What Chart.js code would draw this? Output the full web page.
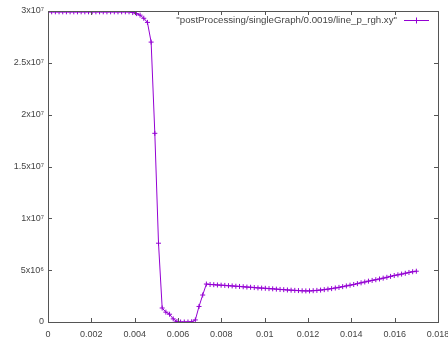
<!DOCTYPE html>
<html>
<head>
<meta charset="utf-8">
<script src="https://cdn.jsdelivr.net/npm/chart.js@4"></script>
<style>
  body { margin: 0; background: #fff; }
  canvas { display: block; }
</style>
</head>
<body>
<canvas id="myChart" width="448" height="339"></canvas>
<script>
// sample positions along the line (m)
var xs = [0, 0.00017, 0.00034, 0.00051, 0.00068, 0.00085, 0.00102, 0.00119, 0.00136, 0.00153,
  0.0017, 0.00187, 0.00204, 0.00221, 0.00238, 0.00255, 0.00272, 0.00289, 0.00306, 0.00323,
  0.0034, 0.00357, 0.00374, 0.00391, 0.00408, 0.00425, 0.00442, 0.00459, 0.00476, 0.00493,
  0.0051, 0.00527, 0.00544, 0.00561, 0.00578, 0.00595, 0.00612, 0.00629, 0.00646, 0.00663,
  0.0068, 0.00697, 0.00714, 0.00731, 0.00748, 0.00765, 0.00782, 0.00799, 0.00816, 0.00833,
  0.0085, 0.00867, 0.00884, 0.00901, 0.00918, 0.00935, 0.00952, 0.00969, 0.00986, 0.01003,
  0.0102, 0.01037, 0.01054, 0.01071, 0.01088, 0.01105, 0.01122, 0.01139, 0.01156, 0.01173,
  0.0119, 0.01207, 0.01224, 0.01241, 0.01258, 0.01275, 0.01292, 0.01309, 0.01326, 0.01343,
  0.0136, 0.01377, 0.01394, 0.01411, 0.01428, 0.01445, 0.01462, 0.01479, 0.01496, 0.01513,
  0.0153, 0.01547, 0.01564, 0.01581, 0.01598, 0.01615, 0.01632, 0.01649, 0.01666, 0.01683,
  0.017];

// p_rgh in units of 1e6
var pRgh = [29.92, 29.92, 29.92, 29.92, 29.92, 29.92, 29.92, 29.92, 29.92, 29.92,
  29.92, 29.92, 29.92, 29.92, 29.92, 29.92, 29.92, 29.92, 29.92, 29.92,
  29.92, 29.92, 29.92, 29.85, 29.75, 29.6, 29.3, 28.9, 27.0, 18.2,
  7.6, 1.35, 0.95, 0.75, 0.3, 0.05, 0, 0, 0, 0.02,
  0.2, 1.5, 2.6, 3.66, 3.62, 3.60, 3.57, 3.55, 3.53, 3.50,
  3.48, 3.45, 3.43, 3.40, 3.37, 3.35, 3.32, 3.29, 3.27, 3.25,
  3.22, 3.20, 3.17, 3.14, 3.12, 3.09, 3.07, 3.05, 3.03, 3.01,
  3.00, 3.00, 3.02, 3.05, 3.08, 3.12, 3.17, 3.22, 3.28, 3.34,
  3.41, 3.48, 3.55, 3.62, 3.70, 3.78, 3.86, 3.94, 4.01, 4.08,
  4.15, 4.23, 4.31, 4.40, 4.48, 4.55, 4.62, 4.70, 4.78, 4.85,
  4.90];

var xTickLabels = ['0', '0.002', '0.004', '0.006', '0.008', '0.01', '0.012', '0.014', '0.016', '0.018'];
var yTickLabels = ['0', '5x10\u2076', '1x10\u2077', '1.5x10\u2077', '2x10\u2077', '2.5x10\u2077', '3x10\u2077'];

var seriesLabel = '"postProcessing/singleGraph/0.0019/line_p_rgh.xy"';
var lineColor = '#9400d3';
var textColor = '#444';
var font = { family: 'Liberation Sans', size: 9 };

var points = xs.map(function (x, i) { return { x: x, y: pRgh[i] * 1e6 }; });

// gnuplot style: full border, ticks pointing inwards and mirrored
var frame = {
  id: 'frame',
  afterDraw: function (chart) {
    var c = chart.ctx, a = chart.chartArea;
    c.save();
    c.strokeStyle = '#555';
    c.lineWidth = 1;
    c.beginPath();
    chart.scales.x.ticks.forEach(function (t) {
      var px = Math.round(chart.scales.x.getPixelForValue(t.value)) + 0.5;
      c.moveTo(px, a.bottom); c.lineTo(px, a.bottom - 4);
      c.moveTo(px, a.top); c.lineTo(px, a.top + 4);
    });
    chart.scales.y.ticks.forEach(function (t) {
      var py = Math.round(chart.scales.y.getPixelForValue(t.value)) + 0.5;
      c.moveTo(a.left, py); c.lineTo(a.left + 4, py);
      c.moveTo(a.right, py); c.lineTo(a.right - 4, py);
    });
    c.stroke();
    c.strokeRect(Math.round(a.left) + 0.5, Math.round(a.top) + 0.5,
      Math.round(a.right - a.left), Math.round(a.bottom - a.top));

    // key in the top right corner
    var ly = a.top + 9;
    c.font = '9.7px ' + font.family;
    c.fillStyle = textColor;
    c.textAlign = 'right';
    c.textBaseline = 'middle';
    c.fillText(seriesLabel, a.right - 41, ly);
    c.strokeStyle = lineColor;
    c.beginPath();
    c.moveTo(a.right - 34, ly + 0.5); c.lineTo(a.right - 9, ly + 0.5);
    c.moveTo(a.right - 21.5, ly - 2.5); c.lineTo(a.right - 21.5, ly + 3.5);
    c.stroke();
    c.restore();
  }
};

var ctx = document.getElementById('myChart').getContext('2d');
var myChart = new Chart(ctx, {
  type: 'scatter',
  data: {
    datasets: [{
      label: seriesLabel,
      data: points,
      showLine: true,
      borderColor: lineColor,
      backgroundColor: lineColor,
      borderWidth: 1,
      pointStyle: 'cross',
      pointRadius: 2.5,
      pointBorderWidth: 1,
      pointHoverRadius: 2.5
    }]
  },
  options: {
    responsive: false,
    animation: false,
    layout: { padding: { top: 11, left: 0, right: 10, bottom: 0 } },
    scales: {
      x: {
        type: 'linear',
        min: 0,
        max: 0.018,
        border: { display: false },
        grid: { display: false, drawTicks: false },
        ticks: {
          stepSize: 0.002,
          padding: 7,
          maxRotation: 0,
          color: textColor,
          font: font,
          callback: function (v, i) { return xTickLabels[i]; }
        },
        afterFit: function (s) {
          s.height = 17;
          // let the last label run off the edge like the original
          s.paddingLeft = 0;
          s.paddingRight = 0;
        }
      },
      y: {
        min: 0,
        max: 3e7,
        border: { display: false },
        grid: { display: false, drawTicks: false },
        ticks: {
          stepSize: 5e6,
          padding: 4,
          color: textColor,
          font: font,
          callback: function (v, i) { return yTickLabels[i]; }
        },
        afterFit: function (s) { s.width = 48; }
      }
    },
    plugins: {
      legend: { display: false },
      tooltip: { enabled: false }
    }
  },
  plugins: [frame]
});
</script>
</body>
</html>
